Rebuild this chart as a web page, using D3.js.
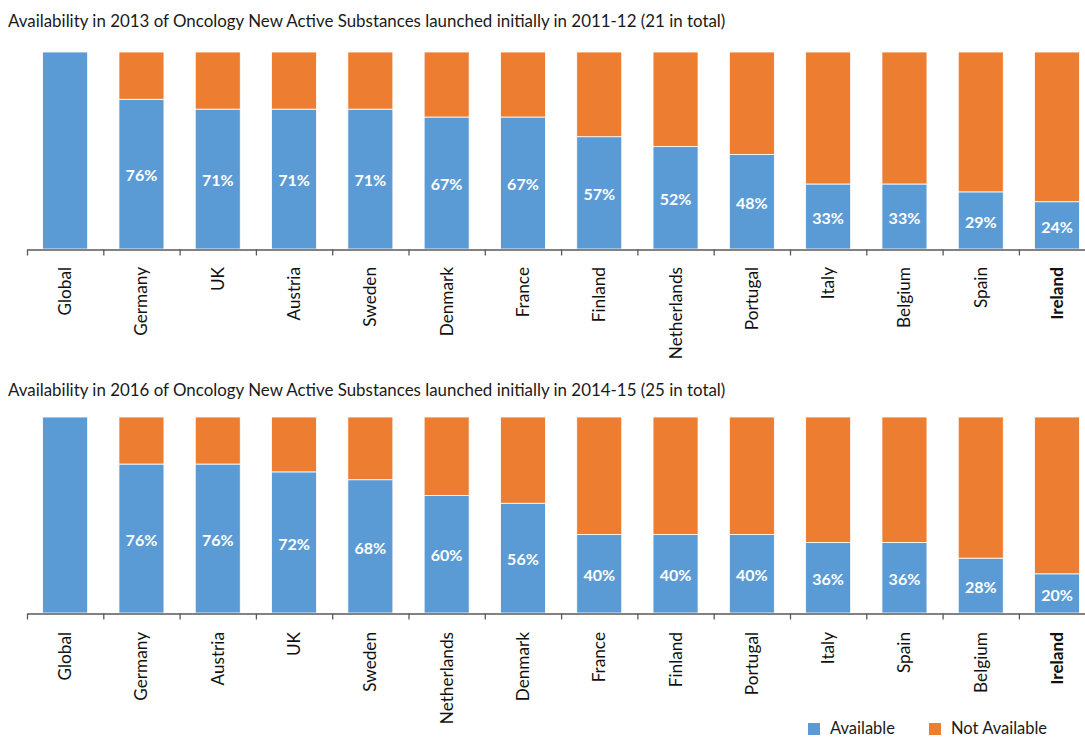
<!DOCTYPE html>
<html>
<head>
<meta charset="utf-8">
<script src="https://cdn.jsdelivr.net/npm/d3@7"></script>
<style>
  body { margin: 0; background: #fff; }
  svg { display: block; font-family: "Lato", "Open Sans", sans-serif; }
</style>
</head>
<body>
<svg id="chart" width="1085" height="738"></svg>
<script>
const title1 = "Availability in 2013 of Oncology New Active Substances launched initially in 2011-12 (21 in total)";
const countries1 = ["Global","Germany","UK","Austria","Sweden","Denmark","France","Finland","Netherlands","Portugal","Italy","Belgium","Spain","Ireland"];
const available1 = [100,76,71,71,71,67,67,57,52,48,33,33,29,24];

const title2 = "Availability in 2016 of Oncology New Active Substances launched initially in 2014-15 (25 in total)";
const countries2 = ["Global","Germany","Austria","UK","Sweden","Netherlands","Denmark","France","Finland","Portugal","Italy","Spain","Belgium","Ireland"];
const available2 = [100,76,76,72,68,60,56,40,40,40,36,36,28,20];

const seriesNames = ["Available","Not Available"];
const colors = ["#5B9BD5","#ED7D31"];
const highlight = "Ireland";

const svg = d3.select("#chart");

function panel(title, countries, avail, titleY, top, bottom, labelY) {
  const g = svg.append("g");
  g.append("text").attr("x", 8).attr("y", titleY)
    .attr("font-size", 16.9).attr("fill", "#1a1a1a").text(title);

  const x = d3.scaleBand().domain(countries)
    .range([27, 27 + 76.3 * countries.length])
    .paddingInner(0.41).paddingOuter(0.205);
  const y = d3.scaleLinear().domain([0, 100]).range([bottom, top]);

  const data = countries.map((c, i) => ({c, a: avail[i], n: 100 - avail[i]}));
  const stack = d3.stack().keys(["a","n"])(data);

  g.selectAll("g.layer").data(stack).join("g")
    .attr("fill", (d, i) => colors[i])
    .selectAll("rect").data(d => d).join("rect")
    .attr("x", d => x(d.data.c))
    .attr("width", x.bandwidth())
    .attr("y", d => y(d[1]))
    .attr("height", d => y(d[0]) - y(d[1]))
    .attr("stroke", "#fff").attr("stroke-width", 0.8);

  // value labels
  g.selectAll("text.val").data(data.filter(d => d.a < 100)).join("text")
    .attr("class", "val")
    .attr("x", d => x(d.c) + x.bandwidth() / 2)
    .attr("y", d => (y(d.a) + y(0)) / 2)
    .attr("dy", "0.45em")
    .attr("text-anchor", "middle")
    .attr("font-size", 16).attr("font-weight", "bold").attr("fill", "#fff")
    .text(d => d.a + "%");

  // axis with ticks at band boundaries
  const edge = d3.scaleLinear().domain([0, countries.length]).range(x.range());
  const axis = d3.axisBottom(edge).tickValues(d3.range(0, countries.length + 1))
    .tickFormat("").tickSizeInner(6).tickSizeOuter(0);
  const ag = g.append("g").attr("transform", `translate(0,${bottom + 0.5})`).call(axis);
  ag.select(".domain").attr("stroke", "#595959").attr("stroke-width", 1.3);
  ag.selectAll(".tick line").attr("stroke", "#595959").attr("stroke-width", 1.3);

  g.selectAll("text.cat").data(countries).join("text")
    .attr("class", "cat")
    .attr("transform", d => `translate(${x(d) + x.bandwidth() / 2},${labelY}) rotate(-90)`)
    .attr("dy", "0.35em")
    .attr("text-anchor", "end")
    .attr("font-size", 17.2)
    .attr("font-weight", d => d === highlight ? "bold" : "normal")
    .attr("fill", "#111")
    .text(d => d);
}

panel(title1, countries1, available1, 27, 52, 249, 267);
panel(title2, countries2, available2, 396, 417, 613, 632);

// legend
const legend = svg.append("g");
const lx = [808, 929];
seriesNames.forEach((s, i) => {
  legend.append("rect").attr("x", lx[i]).attr("y", 723).attr("width", 12).attr("height", 12).attr("fill", colors[i]);
  legend.append("text").attr("x", lx[i] + 22).attr("y", 734).attr("font-size", 16.5).attr("fill", "#1a1a1a").text(s);
});
</script>
</body>
</html>
